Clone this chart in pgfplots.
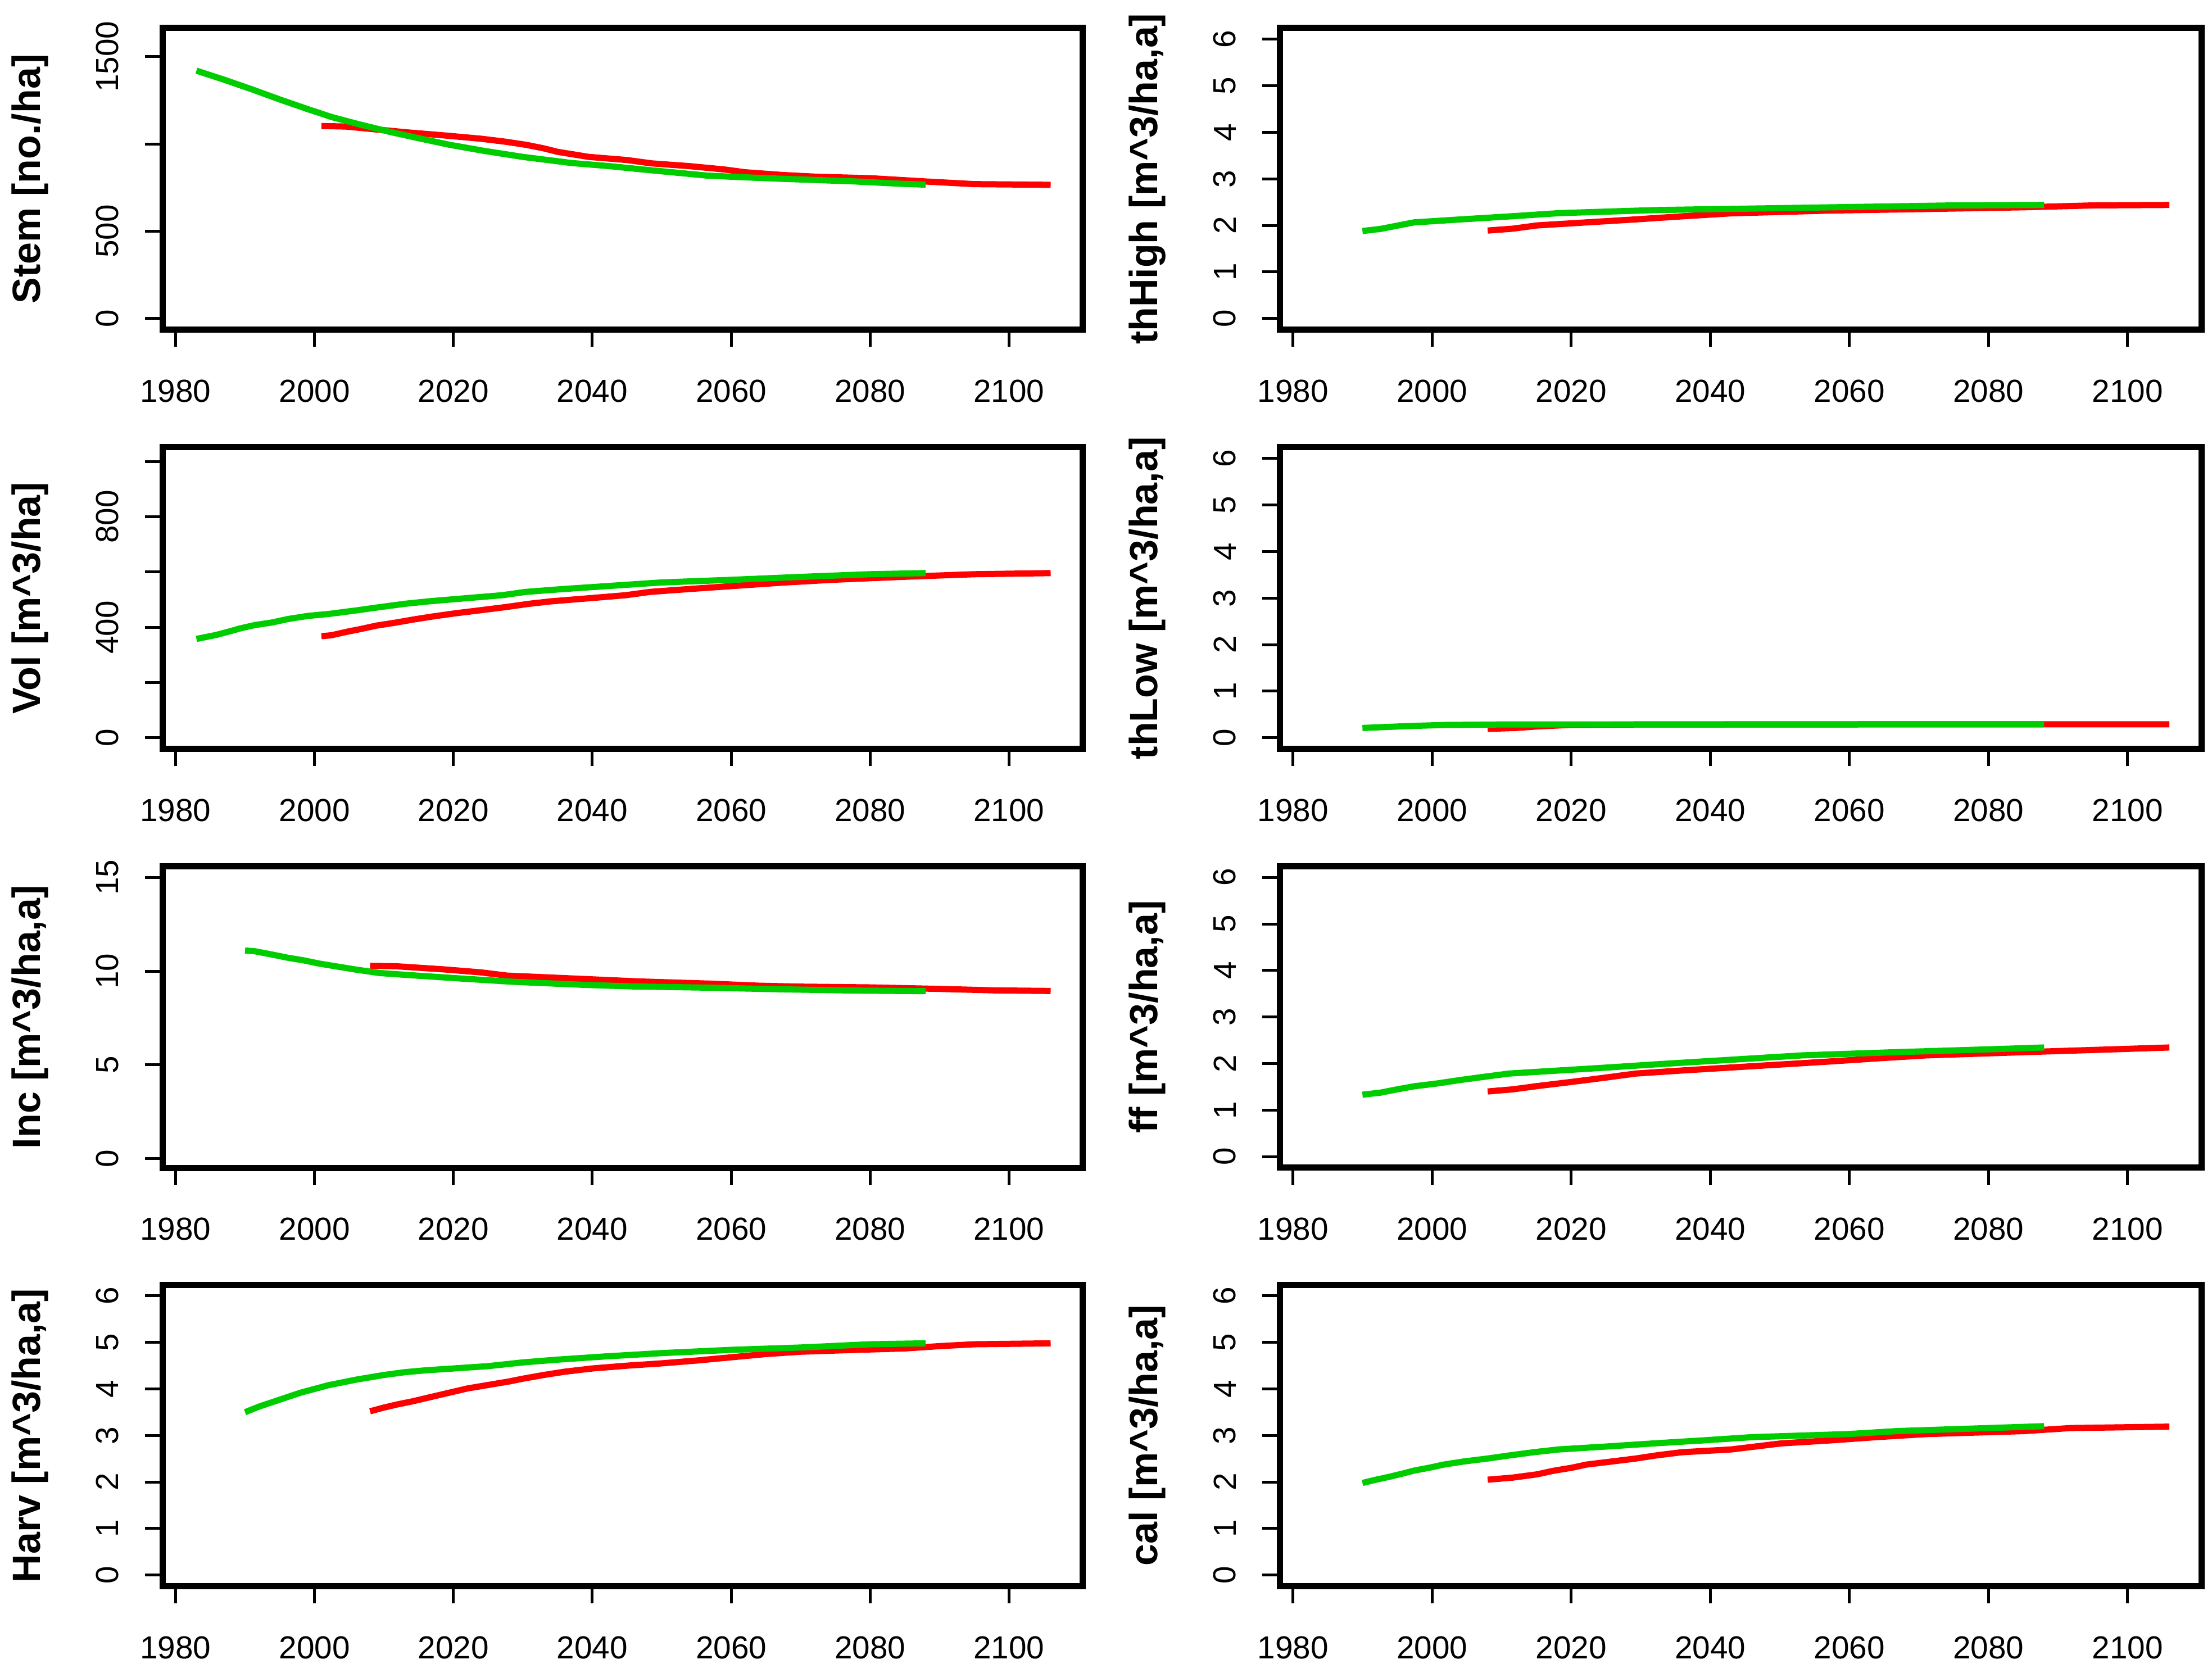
\documentclass[border=0pt]{standalone}
\usepackage{fontspec}
\setmainfont{Liberation Sans}
\usepackage{pgfplots}
\pgfplotsset{compat=1.18}
\definecolor{rgreen}{RGB}{0,205,0}
\definecolor{rred}{RGB}{255,0,0}

% one panel in the style of an R base plot
\pgfplotsset{
  rpanel/.style={
    scale only axis, width=245.6pt, height=80.5pt,
    xmin=1978.1, xmax=2110.6,
    xtick={1980,2000,...,2100},
    scaled ticks=false,
    /pgf/number format/1000 sep={},
    /pgf/number format/assume math mode=true,
    axis line style={line width=1.65pt},
    tick style={line width=0.75pt, black},
    tick align=outside, major tick length=4.6pt,
    xtick pos=bottom, ytick pos=left,
    minor tick num=0,
    tick label style={font=\fontsize{8.5}{10}\selectfont},
    xticklabel style={anchor=north, inner sep=0pt},
    yticklabel style={rotate=90, anchor=south, inner sep=0pt},
    xticklabel shift=8.6pt,
    yticklabel shift=6.9pt,
    every axis y label/.style={at={(rel axis cs:0,0.5)}, xshift=-35.3pt,
      rotate=90, anchor=center, font=\fontsize{10.5}{12}\selectfont\bfseries},
    every axis plot/.append style={line width=1.65pt, line join=round},
  },
  six/.style={ymin=-0.24, ymax=6.24, ytick={0,1,...,6}},
}

\begin{document}
\begin{tikzpicture}
\path[use as bounding box] (0,0) rectangle (590.4pt,-446.4pt);

% ---------- left column ----------
\begin{axis}[rpanel, at={(43.35pt,-7.5pt)}, anchor=north west,
  ymin=-64, ymax=1664, ytick={0,500,1000,1500}, yticklabels={0,500,,1500},
  ylabel={Stem [no./ha]}]
\addplot[rred] coordinates {(2001,1103)(2004.5,1100)(2009.5,1081)(2013.5,1066)(2019,1048)(2024,1030)(2027.5,1013)(2030.5,995)(2033,975)(2035,955)(2039.5,926)(2045,908)(2048.5,889)(2054,873)(2059,854)(2062,838)(2067.5,822)(2072.5,812)(2080,804)(2088.5,784)(2095,770)(2106,766)};
\addplot[rgreen] coordinates {(1983,1420)(1987,1368)(1991,1313)(1995,1255)(1999,1200)(2002.5,1154)(2006.5,1112)(2011,1068)(2015,1033)(2019.5,995)(2024.5,960)(2030,926)(2037,891)(2042.5,873)(2047,855)(2051.5,838)(2056.5,819)(2062,809)(2067,801)(2077.5,786)(2084.5,772)(2088,767)};
\end{axis}

\begin{axis}[rpanel, at={(43.35pt,-119.4pt)}, anchor=north west,
  ymin=-40, ymax=1051, ytick={0,200,...,1000}, yticklabels={0,,400,,800,},
  ylabel={Vol [m\^{}3/ha]}]
\addplot[rred] coordinates {(2001,368)(2002.4,371)(2004.7,384)(2006.7,394)(2008.9,406)(2011.7,417)(2014.2,428)(2017,439)(2020.4,451)(2024,462)(2027.5,473)(2030.9,485)(2034.1,494)(2039.5,505)(2044.8,516)(2048.3,528)(2053.7,538)(2060.6,550)(2067.6,562)(2074.7,572)(2085.2,583)(2095,592)(2106,596)};
\addplot[rgreen] coordinates {(1983,358)(1985.8,372)(1987.6,384)(1989.3,396)(1991.4,408)(1993.8,417)(1996.2,430)(1999,441)(2002.3,449)(2006,461)(2009.4,473)(2013,485)(2016.5,494)(2021.7,505)(2027,516)(2030.4,528)(2035.6,538)(2042.7,550)(2049.8,562)(2060.3,572)(2070.7,583)(2080,592)(2088,596)};
\end{axis}

\begin{axis}[rpanel, at={(43.35pt,-231.2pt)}, anchor=north west,
  ymin=-0.5, ymax=15.6, ytick={0,5,10,15},
  ylabel={Inc [m\^{}3/ha,a]}]
\addplot[rred] coordinates {(2008,10.28)(2011.7,10.26)(2018.7,10.09)(2024,9.93)(2027.7,9.76)(2036.3,9.62)(2046.6,9.45)(2057,9.33)(2064,9.22)(2070,9.17)(2080,9.13)(2090,9.05)(2098,8.97)(2106,8.94)};
\addplot[rgreen] coordinates {(1990,11.1)(1991.4,11.06)(1993.8,10.89)(1996.2,10.71)(1998.5,10.57)(2000.7,10.40)(2003,10.26)(2005.8,10.09)(2009.3,9.90)(2014.7,9.76)(2021.7,9.59)(2028.6,9.43)(2039.2,9.26)(2046,9.18)(2056,9.12)(2067,9.03)(2078,8.96)(2088,8.93)};
\end{axis}

\begin{axis}[rpanel, six, at={(43.35pt,-342.9pt)}, anchor=north west,
  ylabel={Harv [m\^{}3/ha,a]}]
\addplot[rred] coordinates {(2008,3.52)(2010,3.60)(2012,3.67)(2014,3.73)(2016,3.80)(2018,3.87)(2020,3.94)(2022,4.01)(2024,4.06)(2026,4.11)(2028,4.16)(2030,4.22)(2033,4.30)(2036,4.37)(2040,4.44)(2045,4.50)(2050,4.55)(2055,4.61)(2060,4.68)(2065,4.75)(2070,4.80)(2078,4.84)(2085,4.87)(2090,4.92)(2095,4.96)(2106,4.98)};
\addplot[rgreen] coordinates {(1990,3.50)(1992,3.62)(1994,3.72)(1996,3.82)(1998,3.92)(2000,4.00)(2002,4.08)(2004,4.14)(2006,4.20)(2008,4.25)(2010,4.30)(2013,4.36)(2016,4.40)(2020,4.44)(2025,4.49)(2030,4.57)(2035,4.63)(2042,4.70)(2050,4.77)(2060,4.84)(2070,4.89)(2080,4.96)(2088,4.98)};
\end{axis}

% ---------- right column ----------
\begin{axis}[rpanel, six, width=246pt, at={(341.55pt,-7.5pt)}, anchor=north west,
  ylabel={thHigh [m\^{}3/ha,a]}]
\addplot[rred] coordinates {(2008,1.89)(2011.6,1.93)(2015.1,2.0)(2022.2,2.065)(2029.3,2.13)(2035.9,2.195)(2043,2.26)(2057.3,2.32)(2070,2.35)(2085.2,2.39)(2095,2.43)(2106,2.44)};
\addplot[rgreen] coordinates {(1990,1.88)(1992.6,1.925)(1995,1.995)(1997.4,2.065)(2004.2,2.13)(2011.3,2.195)(2018.4,2.265)(2032.2,2.33)(2060,2.395)(2075,2.43)(2088,2.44)};
\end{axis}

\begin{axis}[rpanel, six, width=246pt, at={(341.55pt,-119.4pt)}, anchor=north west,
  ylabel={thLow [m\^{}3/ha,a]}]
\addplot[rred] coordinates {(2008,0.19)(2012,0.21)(2015.3,0.245)(2020,0.275)(2030,0.285)(2106,0.29)};
\addplot[rgreen] coordinates {(1990,0.21)(1994,0.235)(1997.4,0.255)(2002,0.275)(2010,0.285)(2088,0.29)};
\end{axis}

\begin{axis}[rpanel, six, width=246pt, at={(341.55pt,-231.2pt)}, anchor=north west,
  ylabel={ff [m\^{}3/ha,a]}]
\addplot[rred] coordinates {(2008,1.40)(2011.6,1.445)(2015.1,1.515)(2018.7,1.58)(2022.2,1.645)(2025.8,1.715)(2029.3,1.785)(2035.9,1.85)(2043,1.915)(2050.2,1.98)(2057.3,2.045)(2063.9,2.11)(2071,2.175)(2085.2,2.245)(2098.9,2.31)(2106,2.345)};
\addplot[rgreen] coordinates {(1990,1.33)(1992.6,1.375)(1995,1.445)(1997.4,1.51)(2000.9,1.575)(2004,1.645)(2007.5,1.715)(2011.1,1.785)(2018.2,1.85)(2025.3,1.915)(2031.9,1.98)(2039,2.045)(2046.1,2.11)(2053.2,2.175)(2066.9,2.245)(2081.1,2.31)(2088,2.345)};
\end{axis}

\begin{axis}[rpanel, six, width=246pt, at={(341.55pt,-342.9pt)}, anchor=north west,
  ylabel={cal [m\^{}3/ha,a]}]
\addplot[rred] coordinates {(2008,2.05)(2011.6,2.095)(2015.1,2.165)(2017.4,2.24)(2020.2,2.31)(2022.2,2.375)(2025.8,2.44)(2029.3,2.505)(2032.4,2.575)(2035.9,2.64)(2043,2.70)(2046.6,2.765)(2050.2,2.83)(2057.3,2.895)(2063.9,2.965)(2071,3.03)(2085.2,3.095)(2091.8,3.16)(2106,3.19)};
\addplot[rgreen] coordinates {(1990,1.98)(1991.8,2.045)(1993.8,2.11)(1995.6,2.175)(1997.4,2.245)(1999.7,2.31)(2001.7,2.375)(2004.5,2.44)(2008,2.505)(2011.3,2.575)(2014.6,2.64)(2018.2,2.70)(2025.3,2.765)(2031.9,2.83)(2039,2.895)(2046.1,2.965)(2059.8,3.03)(2066.9,3.095)(2081.1,3.165)(2088,3.20)};
\end{axis}
\end{tikzpicture}
\end{document}
